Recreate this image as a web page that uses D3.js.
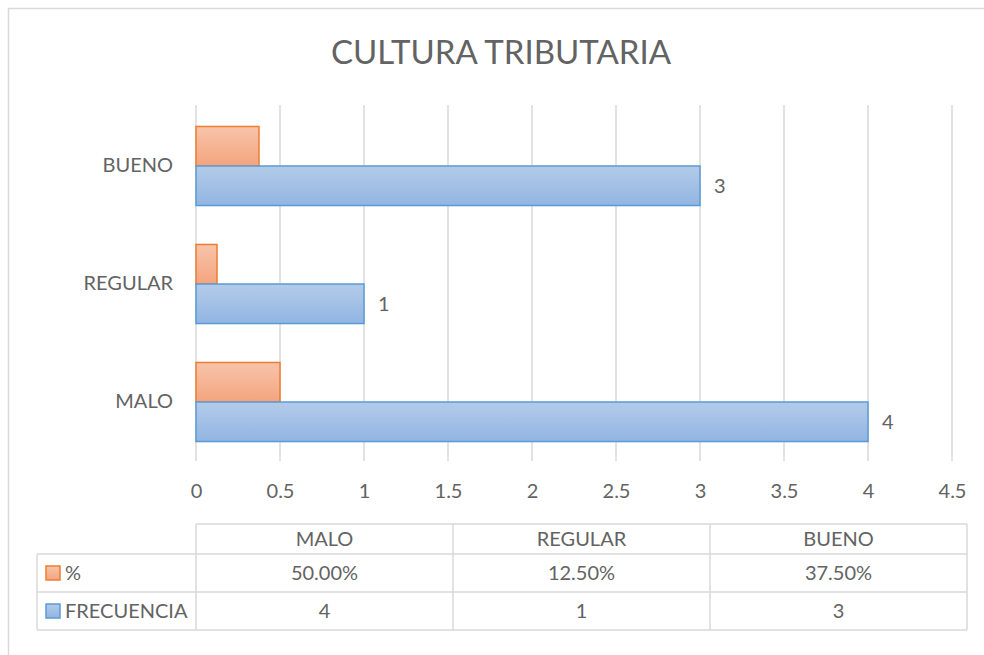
<!DOCTYPE html>
<html>
<head>
<meta charset="utf-8">
<script src="https://cdn.jsdelivr.net/npm/d3@7"></script>
<style>
  html, body { margin: 0; padding: 0; background: #fff; }
  svg { display: block; }
</style>
</head>
<body>
<script>
// Chart data.
const categories = ["MALO", "REGULAR", "BUENO"];
const frecuencia = [4, 1, 3];
const porcentaje = [0.5, 0.125, 0.375];
const porcentajeLabels = ["50.00%", "12.50%", "37.50%"];
const xTicks = [0, 0.5, 1, 1.5, 2, 2.5, 3, 3.5, 4, 4.5];
const seriesNames = ["%", "FRECUENCIA"];

const width = 984;
const height = 655;
const font = "Lato, 'Open Sans', sans-serif";
const textColor = "#636363";
const gridColor = "#d9d9d9";
const labelSize = 20;

// Plot area.
const plot = { left: 196, right: 952, top: 107, bottom: 461 };

const svg = d3.select("body").append("svg")
  .attr("width", width)
  .attr("height", height)
  .style("font-family", font);

// Gradients for the bar fills.
const defs = svg.append("defs");
const gradients = [
  { id: "gradOrange", top: "#f7c4aa", bottom: "#f4a47e" },
  { id: "gradBlue", top: "#b3cbe9", bottom: "#92b5e2" },
];
gradients.forEach((g) => {
  const lg = defs.append("linearGradient")
    .attr("id", g.id)
    .attr("x1", 0).attr("y1", 0).attr("x2", 0).attr("y2", 1);
  lg.append("stop").attr("offset", "0%").attr("stop-color", g.top);
  lg.append("stop").attr("offset", "100%").attr("stop-color", g.bottom);
});

// Chart frame (runs off the right and bottom edges).
svg.append("rect")
  .attr("x", 8.5).attr("y", 8.5)
  .attr("width", 1000).attr("height", 700)
  .attr("fill", "none")
  .attr("stroke", gridColor)
  .attr("stroke-width", 1.5);

// Title.
svg.append("text")
  .attr("x", 501)
  .attr("y", 64)
  .attr("text-anchor", "middle")
  .attr("font-size", 33)
  .attr("fill", textColor)
  .text("CULTURA TRIBUTARIA");

// Scales.
const x = d3.scaleLinear().domain([0, 4.5]).range([plot.left, plot.right]);
const y = d3.scaleBand()
  .domain(categories.slice().reverse())
  .range([plot.top, plot.bottom])
  .paddingInner(0.33)
  .paddingOuter(0.165);
const ySub = d3.scaleBand()
  .domain(seriesNames)
  .range([0, y.bandwidth()]);

// Gridlines.
svg.append("g")
  .selectAll("line")
  .data(xTicks)
  .join("line")
  .attr("x1", (d) => x(d)).attr("x2", (d) => x(d))
  .attr("y1", plot.top - 2).attr("y2", plot.bottom)
  .attr("stroke", gridColor)
  .attr("stroke-width", 1.5);

// X axis tick labels.
const xAxis = svg.append("g")
  .attr("transform", `translate(0,${plot.bottom})`)
  .call(d3.axisBottom(x).tickValues(xTicks).tickSize(0).tickPadding(23).tickFormat(d3.format("")));
xAxis.select(".domain").remove();
xAxis.selectAll("text")
  .attr("font-size", labelSize)
  .attr("font-family", font)
  .attr("fill", textColor);

// Y axis category labels.
const yAxis = svg.append("g")
  .attr("transform", `translate(${plot.left},0)`)
  .call(d3.axisLeft(y).tickSize(0).tickPadding(23));
yAxis.select(".domain").remove();
yAxis.selectAll("text")
  .attr("font-size", labelSize)
  .attr("font-family", font)
  .attr("fill", textColor);

// Bars.
const rows = categories.map((c, i) => ({
  category: c,
  values: [
    { series: "%", value: porcentaje[i], fill: "url(#gradOrange)", stroke: "#ed7d31" },
    { series: "FRECUENCIA", value: frecuencia[i], fill: "url(#gradBlue)", stroke: "#5b9bd5" },
  ],
}));

const groups = svg.append("g")
  .selectAll("g")
  .data(rows)
  .join("g")
  .attr("transform", (d) => `translate(0,${y(d.category)})`);

groups.selectAll("rect")
  .data((d) => d.values)
  .join("rect")
  .attr("x", x(0))
  .attr("y", (d) => ySub(d.series))
  .attr("width", (d) => x(d.value) - x(0))
  .attr("height", ySub.bandwidth())
  .attr("fill", (d) => d.fill)
  .attr("stroke", (d) => d.stroke)
  .attr("stroke-width", 1.5);

// Data labels on the FRECUENCIA bars.
groups.append("text")
  .attr("x", (d) => x(d.values[1].value) + 14)
  .attr("y", ySub("FRECUENCIA") + ySub.bandwidth() / 2)
  .attr("dy", "0.35em")
  .attr("font-size", labelSize)
  .attr("fill", textColor)
  .text((d) => d.values[1].value);

// Data table.
const table = { left: 37, top: 524, colEdges: [196, 453, 710, 967], rowEdges: [524, 554, 592, 630] };
const tg = svg.append("g")
  .attr("stroke", gridColor)
  .attr("stroke-width", 1.5)
  .attr("fill", "none");

// Horizontal lines.
tg.append("line")
  .attr("x1", table.colEdges[0]).attr("x2", table.colEdges[3])
  .attr("y1", table.rowEdges[0]).attr("y2", table.rowEdges[0]);
table.rowEdges.slice(1).forEach((ry) => {
  tg.append("line")
    .attr("x1", table.left).attr("x2", table.colEdges[3])
    .attr("y1", ry).attr("y2", ry);
});
// Vertical lines.
tg.append("line")
  .attr("x1", table.left).attr("x2", table.left)
  .attr("y1", table.rowEdges[1]).attr("y2", table.rowEdges[3]);
table.colEdges.forEach((cx) => {
  tg.append("line")
    .attr("x1", cx).attr("x2", cx)
    .attr("y1", table.rowEdges[0]).attr("y2", table.rowEdges[3]);
});

const cellText = svg.append("g")
  .attr("font-size", labelSize)
  .attr("fill", textColor)
  .attr("text-anchor", "middle");

const rowMid = (i) => (table.rowEdges[i] + table.rowEdges[i + 1]) / 2;
const colMid = (j) => (table.colEdges[j] + table.colEdges[j + 1]) / 2;

categories.forEach((c, j) => {
  cellText.append("text").attr("x", colMid(j)).attr("y", rowMid(0)).attr("dy", "0.35em").text(c);
  cellText.append("text").attr("x", colMid(j)).attr("y", rowMid(1)).attr("dy", "0.35em").text(porcentajeLabels[j]);
  cellText.append("text").attr("x", colMid(j)).attr("y", rowMid(2)).attr("dy", "0.35em").text(frecuencia[j]);
});

// Legend keys inside the table.
const legend = [
  { name: seriesNames[0], fill: "url(#gradOrange)", stroke: "#ed7d31" },
  { name: seriesNames[1], fill: "url(#gradBlue)", stroke: "#5b9bd5" },
];
legend.forEach((l, i) => {
  const cy = rowMid(i + 1);
  svg.append("rect")
    .attr("x", 46).attr("y", cy - 7)
    .attr("width", 14).attr("height", 14)
    .attr("fill", l.fill)
    .attr("stroke", l.stroke)
    .attr("stroke-width", 1.5);
  svg.append("text")
    .attr("x", 65).attr("y", cy)
    .attr("dy", "0.35em")
    .attr("font-size", labelSize)
    .attr("fill", textColor)
    .text(l.name);
});
</script>
</body>
</html>
